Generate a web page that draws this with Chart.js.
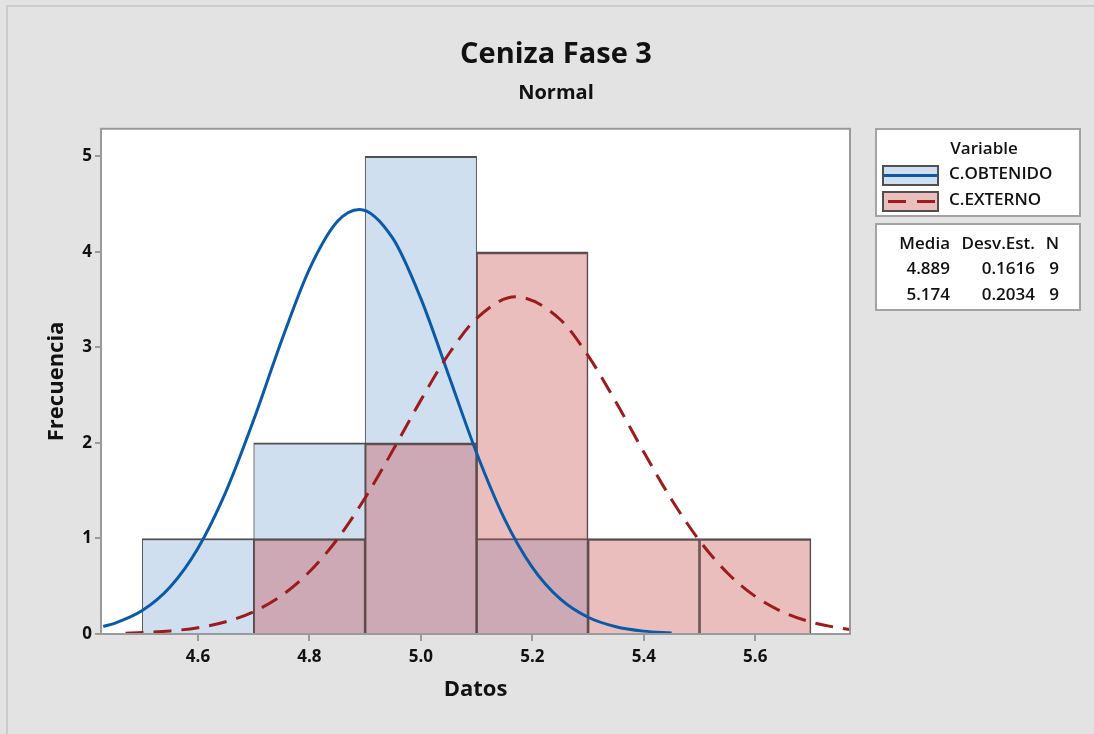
<!DOCTYPE html>
<html>
<head>
<meta charset="utf-8">
<script src="https://cdn.jsdelivr.net/npm/chart.js@4/dist/chart.umd.min.js"></script>
<style>
  body { margin: 0; background: #e3e3e3; font-family: "Open Sans", "Noto Sans", sans-serif; }
  #wrap { position: relative; width: 1094px; height: 734px; }
  .box { position: absolute; box-sizing: border-box; background: #fff; border: 2px solid #a3a3a3; color: #111; font-size: 17px; font-weight: 600; }
  .box span { position: absolute; line-height: 20px; white-space: nowrap; }
  .box svg { position: absolute; }
</style>
</head>
<body>
<div id="wrap">
  <canvas id="histChart" width="1094" height="734"></canvas>

  <!-- leyenda estilo Minitab -->
  <div class="box" style="left:875px; top:128px; width:206px; height:89px;">
    <span style="left:0; width:214px; text-align:center; top:8px;">Variable</span>
    <svg style="left:5px; top:35px;" width="57" height="21">
      <rect x="1" y="1" width="55" height="19" fill="#cfdff0" stroke="#505050" stroke-width="2"/>
      <line x1="2" y1="10.5" x2="55" y2="10.5" stroke="#0b5aa8" stroke-width="3"/>
    </svg>
    <span style="left:72px; top:33px;">C.OBTENIDO</span>
    <svg style="left:5px; top:61px;" width="57" height="21">
      <rect x="1" y="1" width="55" height="19" fill="#ebbebe" stroke="#505050" stroke-width="2"/>
      <line x1="6" y1="10.5" x2="55" y2="10.5" stroke="#9c1c1c" stroke-width="3" stroke-dasharray="18,11"/>
    </svg>
    <span style="left:72px; top:59px;">C.EXTERNO</span>
  </div>
  <div class="box" style="left:875px; top:223px; width:206px; height:88px;">
    <span style="left:0; width:73px; text-align:right; top:8px;">Media</span>
    <span style="left:73px; width:85px; text-align:right; top:8px;">Desv.Est.</span>
    <span style="left:158px; width:24px; text-align:right; top:8px;">N</span>
    <span style="left:0; width:73px; text-align:right; top:33px;" id="m0"></span>
    <span style="left:73px; width:85px; text-align:right; top:33px;" id="s0"></span>
    <span style="left:158px; width:24px; text-align:right; top:33px;" id="n0"></span>
    <span style="left:0; width:73px; text-align:right; top:59px;" id="m1"></span>
    <span style="left:73px; width:85px; text-align:right; top:59px;" id="s1"></span>
    <span style="left:158px; width:24px; text-align:right; top:59px;" id="n1"></span>
  </div>
</div>

<script>
// Datos del histograma
const variables = ['C.OBTENIDO', 'C.EXTERNO'];
const binEdges = [4.5, 4.7, 4.9, 5.1, 5.3, 5.5, 5.7];
const obtenidoCounts = [1, 2, 5, 1, 0, 0];
const externoCounts = [0, 1, 2, 4, 1, 1];

// Estadísticos mostrados en la tabla
const medias = ['4.889', '5.174'];
const desvEst = ['0.1616', '0.2034'];
const nObs = ['9', '9'];

// Curvas normales ajustadas
const obtenidoCurveX = [4.43, 4.45, 4.50, 4.55, 4.60, 4.65, 4.70, 4.75, 4.80, 4.85, 4.89, 4.95, 5.00, 5.05, 5.10, 5.15, 5.20, 5.25, 5.30, 5.35, 5.40, 5.45];
const obtenidoCurveY = [0.079, 0.111, 0.245, 0.492, 0.898, 1.488, 2.242, 3.070, 3.819, 4.317, 4.444, 4.138, 3.510, 2.706, 1.895, 1.206, 0.698, 0.367, 0.175, 0.076, 0.030, 0.011];
const externoCurveX = [4.47, 4.50, 4.55, 4.60, 4.65, 4.70, 4.75, 4.80, 4.85, 4.90, 4.95, 5.00, 5.05, 5.10, 5.17, 5.25, 5.30, 5.35, 5.40, 5.45, 5.50, 5.55, 5.60, 5.65, 5.70, 5.75, 5.77];
const externoCurveY = [0.009, 0.015, 0.032, 0.066, 0.128, 0.234, 0.402, 0.651, 0.992, 1.425, 1.925, 2.448, 2.931, 3.304, 3.529, 3.292, 2.914, 2.428, 1.904, 1.406, 0.977, 0.639, 0.394, 0.228, 0.125, 0.064, 0.048];

// Ticks de los ejes
const xTicks = [4.6, 4.8, 5.0, 5.2, 5.4, 5.6];
const yTicks = [0, 1, 2, 3, 4, 5];

// rellenar la tabla de estadísticos
for (let i = 0; i < variables.length; i++) {
    document.getElementById('m' + i).textContent = medias[i];
    document.getElementById('s' + i).textContent = desvEst[i];
    document.getElementById('n' + i).textContent = nObs[i];
}

// barras: centro de cada clase, se omiten las vacías
function toBars(counts) {
    const out = [];
    for (let i = 0; i < counts.length; i++) {
        if (counts[i] > 0) {
            out.push({ x: (binEdges[i] + binEdges[i + 1]) / 2, y: counts[i] });
        }
    }
    return out;
}

function toPoints(xs, ys) {
    return xs.map((x, i) => ({ x: x, y: ys[i] }));
}

// fondo gris, marco y área de trazado blanca
const frame = {
    id: 'frame',
    beforeDraw(chart) {
        const { ctx, chartArea } = chart;
        ctx.save();
        ctx.fillStyle = '#e3e3e3';
        ctx.fillRect(0, 0, chart.width, chart.height);
        ctx.fillStyle = '#cbcbcb';
        ctx.fillRect(6, 5, chart.width - 6, 2);
        ctx.fillRect(6, 5, 2, chart.height - 5);
        ctx.fillStyle = '#ffffff';
        ctx.fillRect(chartArea.left, chartArea.top, chartArea.right - chartArea.left, chartArea.bottom - chartArea.top);
        ctx.restore();
    },
    afterDatasetsDraw(chart) {
        const { ctx, chartArea } = chart;
        ctx.save();
        ctx.strokeStyle = '#9a9a9a';
        ctx.lineWidth = 2;
        ctx.strokeRect(chartArea.left, chartArea.top, chartArea.right - chartArea.left, chartArea.bottom - chartArea.top);
        ctx.restore();
    }
};

Chart.defaults.font.family = '"Open Sans", "Noto Sans", sans-serif';
Chart.defaults.color = '#111';

const barBorder = { top: 2, left: 1, right: 1, bottom: 0 };

const ctx = document.getElementById('histChart').getContext('2d');
new Chart(ctx, {
    data: {
        datasets: [
            {
                type: 'bar',
                label: variables[0],
                data: toBars(obtenidoCounts),
                backgroundColor: '#cfdff0',
                borderColor: '#505050',
                borderWidth: barBorder,
                grouped: false,
                barPercentage: 1,
                categoryPercentage: 1,
                order: 4
            },
            {
                type: 'bar',
                label: variables[1],
                data: toBars(externoCounts),
                backgroundColor: 'rgba(199, 72, 72, 0.354)',
                borderColor: '#505050',
                borderWidth: barBorder,
                grouped: false,
                barPercentage: 1,
                categoryPercentage: 1,
                order: 3
            },
            {
                type: 'line',
                label: variables[0] + ' normal',
                data: toPoints(obtenidoCurveX, obtenidoCurveY),
                borderColor: '#0b5aa8',
                borderWidth: 3,
                pointRadius: 0,
                cubicInterpolationMode: 'monotone',
                fill: false,
                order: 2
            },
            {
                type: 'line',
                label: variables[1] + ' normal',
                data: toPoints(externoCurveX, externoCurveY),
                borderColor: '#9c1c1c',
                borderWidth: 3,
                borderDash: [18, 10],
                pointRadius: 0,
                cubicInterpolationMode: 'monotone',
                fill: false,
                order: 1
            }
        ]
    },
    options: {
        responsive: false,
        animation: false,
        layout: {
            padding: { left: 18, right: 0, top: 0, bottom: 0 }
        },
        plugins: {
            legend: { display: false },
            tooltip: { enabled: false },
            title: {
                display: true,
                text: 'Ceniza Fase 3',
                color: '#111',
                font: { size: 29, weight: 'bold' },
                padding: { top: 37, bottom: 9 }
            },
            subtitle: {
                display: true,
                text: 'Normal',
                color: '#111',
                font: { size: 20, weight: 'bold' },
                padding: { top: 0, bottom: 24 }
            }
        },
        scales: {
            x: {
                type: 'linear',
                offset: false,
                min: 4.426,
                max: 5.770,
                afterBuildTicks: (scale) => { scale.ticks = xTicks.map(v => ({ value: v })); },
                afterFit: (scale) => { scale.height = 100; },
                grid: {
                    offset: false,
                    drawOnChartArea: false,
                    color: '#9a9a9a',
                    lineWidth: 2,
                    tickLength: 7
                },
                border: { color: '#9a9a9a', width: 2 },
                ticks: {
                    padding: 6,
                    maxRotation: 0,
                    color: '#111',
                    font: { size: 17, weight: 'bold' },
                    callback: (v) => v.toFixed(1)
                },
                title: {
                    display: true,
                    text: 'Datos',
                    color: '#111',
                    font: { size: 22, weight: 'bold' },
                    padding: { top: 0, bottom: 31 }
                }
            },
            y: {
                min: 0,
                max: 5.288,
                afterBuildTicks: (scale) => { scale.ticks = yTicks.map(v => ({ value: v })); },
                afterFit: (scale) => { scale.width = 83; },
                grid: {
                    drawOnChartArea: false,
                    color: '#9a9a9a',
                    lineWidth: 2,
                    tickLength: 6
                },
                border: { color: '#9a9a9a', width: 2 },
                ticks: {
                    padding: 3,
                    color: '#111',
                    font: { size: 17, weight: 'bold' }
                },
                title: {
                    display: true,
                    text: 'Frecuencia',
                    color: '#111',
                    font: { size: 22, weight: 'bold' },
                    padding: { top: 26, bottom: 0 }
                }
            },
            // eje vacío a la derecha que reserva el sitio de la leyenda
            legendSpace: {
                type: 'linear',
                position: 'right',
                display: true,
                afterFit: (scale) => { scale.width = 244; },
                grid: { display: false, drawTicks: false },
                border: { display: false },
                ticks: { display: false }
            }
        }
    },
    plugins: [frame]
});
</script>
</body>
</html>
